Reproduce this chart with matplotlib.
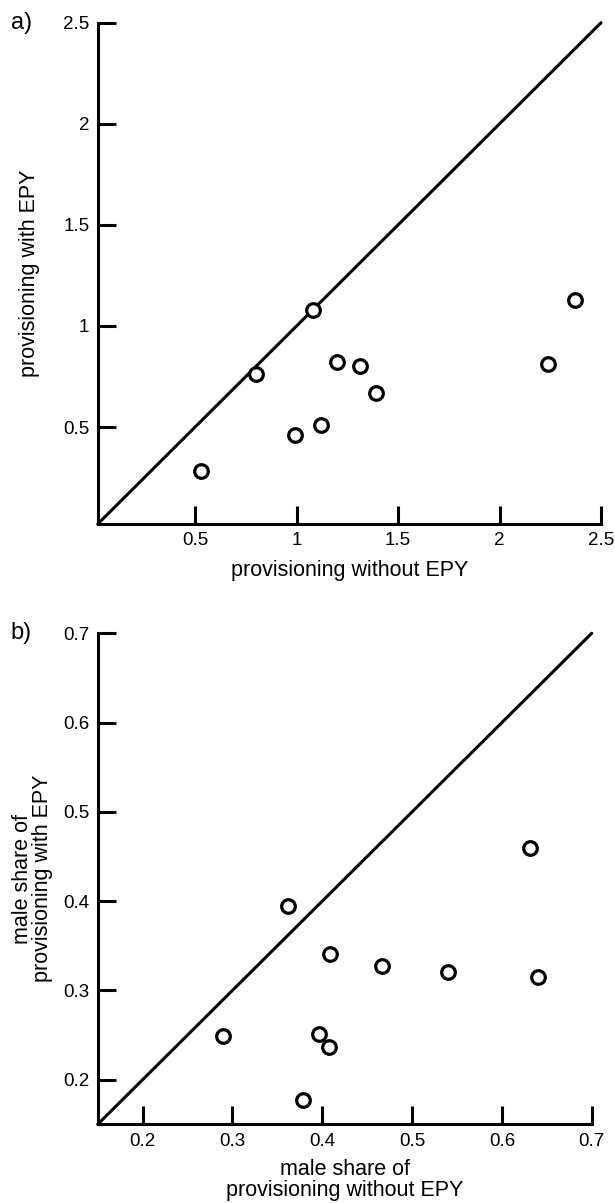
import matplotlib
matplotlib.use("Agg")
import matplotlib.pyplot as plt
import numpy as np

plt.rcParams['font.family'] = ['Liberation Sans', 'DejaVu Sans']

# panel a: provisioning rate
a_without = [0.53, 0.80, 0.99, 1.08, 1.12, 1.20, 1.31, 1.39, 2.24, 2.37]
a_with = [0.28, 0.76, 0.46, 1.08, 0.51, 0.82, 0.80, 0.67, 0.81, 1.13]
a_ticks = [0.5, 1, 1.5, 2, 2.5]
a_lim = [0.02, 2.5]

# panel b: male share of provisioning
b_without = [0.362, 0.290, 0.378, 0.409, 0.466, 0.540, 0.640, 0.396, 0.407, 0.631]
b_with = [0.395, 0.249, 0.177, 0.341, 0.327, 0.321, 0.315, 0.251, 0.237, 0.459]
b_ticks = [0.2, 0.3, 0.4, 0.5, 0.6, 0.7]
b_lim = [0.15, 0.7]

fig = plt.figure(figsize=(6.15, 12.03), dpi=100)
ax1 = fig.add_axes([0.1589, 0.5644, 0.8184, 0.4167])
ax2 = fig.add_axes([0.1589, 0.0654, 0.8033, 0.4082])

def style(ax, lim, ticks):
    ax.set_xlim(lim)
    ax.set_ylim(lim)
    for s in ['top', 'right']:
        ax.spines[s].set_visible(False)
    for s in ['left', 'bottom']:
        ax.spines[s].set_linewidth(2.2)
    ax.set_xticks(ticks)
    ax.set_yticks(ticks)
    ax.set_xticklabels(['%g' % t for t in ticks])
    ax.set_yticklabels(['%g' % t for t in ticks])
    ax.tick_params(direction='in', length=13, width=2.2, labelsize=13.5, pad=6)
    # 1:1 line
    ax.plot(lim, lim, color='black', lw=2.2, solid_capstyle='round', clip_on=False)

style(ax1, a_lim, a_ticks)
ax1.plot(a_without, a_with, 'o', mfc='white', mec='black', mew=2.3, ms=9.8, clip_on=False)
ax1.set_xlabel('provisioning without EPY', fontsize=15.5, labelpad=8)
ax1.set_ylabel('provisioning with EPY', fontsize=15.5, labelpad=17)
ax1.text(-0.172, 1.0, 'a)', transform=ax1.transAxes, fontsize=17, va='center', ha='left')

style(ax2, b_lim, b_ticks)
ax2.plot(b_without, b_with, 'o', mfc='white', mec='black', mew=2.3, ms=9.8, clip_on=False)
ax2.set_xlabel('male share of\nprovisioning without EPY', fontsize=15.5, labelpad=7, linespacing=0.95)
ax2.set_ylabel('male share of\nprovisioning with EPY', fontsize=15.5, labelpad=7, linespacing=0.95)
ax2.text(-0.176, 1.0, 'b)', transform=ax2.transAxes, fontsize=17, va='center', ha='left')

fig.savefig('out.png', dpi=100)
